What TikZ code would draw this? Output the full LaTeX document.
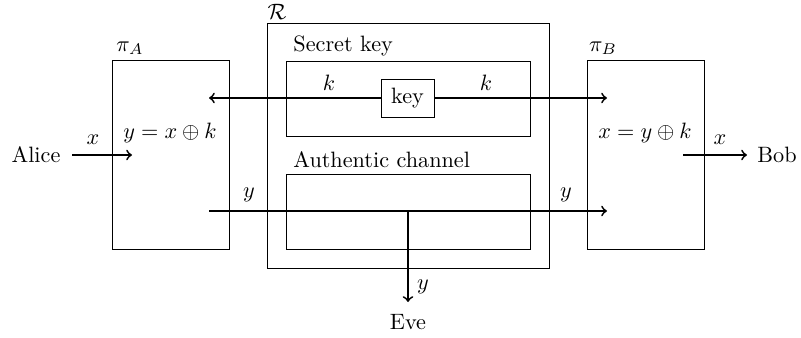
\documentclass[tikz,border=0pt]{standalone}
\usepackage{amsmath,amssymb}
\begin{document}
\begin{tikzpicture}[x=0.45pt,y=-0.45pt,
  box/.style={draw,thin,rectangle,inner sep=0pt},
  arr/.style={->,thick},
  lbl/.style={inner sep=0pt}]
\useasboundingbox (0,0) rectangle (801,338);
% boxes
\node[box,minimum width=52.65pt,minimum height=85.05pt] (piA) at (170.5,154.5) {};
\node[box,minimum width=52.65pt,minimum height=85.05pt] (piB) at (645.5,154.5) {};
\node[box,minimum width=126.9pt,minimum height=110.25pt] (R) at (408,145.5) {};
\node[box,minimum width=109.8pt,minimum height=33.75pt] (SK) at (408,98.5) {};
\node[box,minimum width=109.8pt,minimum height=33.75pt] (AC) at (408,211.5) {};
\node[box,minimum width=23.85pt,minimum height=17.1pt] (key) at (407.5,98) {key};
% end points
\coordinate (kA) at (209,98);
\coordinate (kB) at (607,98);
\coordinate (yA) at (209,211);
\coordinate (yB) at (607,211);
\coordinate (yE) at (408,211);
\coordinate (eTip) at (408,302);
\coordinate (aOut) at (72,155);
\coordinate (aIn) at (132,155);
\coordinate (bOut) at (683,155);
\coordinate (bIn) at (747,155);
% outer nodes
\node[lbl] (Alice) at (36,155) {Alice};
\node[lbl,anchor=west] (Bob) at (757,155) {Bob};
\node[lbl] (Eve) at (408,322) {Eve};
% connectors
\draw[arr] (key.west) -- (kA);
\draw[arr] (key.east) -- (kB);
\draw[arr] (yA) -- (yB);
\draw[arr] (yE) -- (eTip);
\draw[arr] (aOut) -- (aIn);
\draw[arr] (bOut) -- (bIn);
% labels
\node[lbl] (lpiA) at (130,48) {$\pi_A$};
\node[lbl] (lpiB) at (603,48) {$\pi_B$};
\node[lbl] (lR) at (277,12) {$\mathcal{R}$};
\node[lbl,anchor=west] (lSK) at (293,46) {Secret key};
\node[lbl,anchor=west] (lAC) at (293,160) {Authentic channel};
\node[lbl] (eqA) at (170,133) {$y = x \oplus k$};
\node[lbl] (eqB) at (645,133) {$x = y \oplus k$};
\node[lbl] (lx1) at (93,140) {$x$};
\node[lbl] (lx2) at (720,140) {$x$};
\node[lbl] (lk1) at (329,83) {$k$};
\node[lbl] (lk2) at (486,83) {$k$};
\node[lbl] (ly1) at (249,195) {$y$};
\node[lbl] (ly2) at (566,195) {$y$};
\node[lbl] (ly3) at (423,287) {$y$};
\end{tikzpicture}
\end{document}
